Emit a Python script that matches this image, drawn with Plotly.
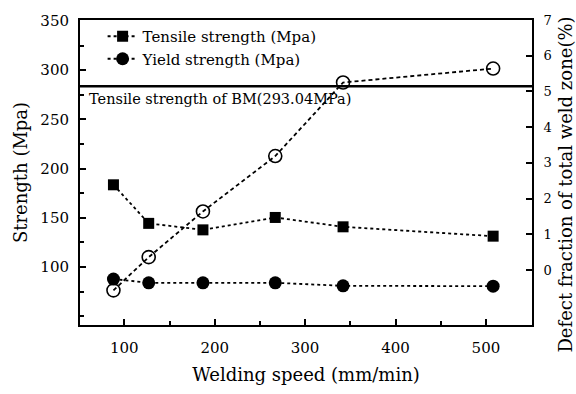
import plotly.graph_objects as go

# Data
speed = [88, 127, 187, 267, 342, 508]
tensile = [183.5, 144.3, 137.7, 150.3, 140.8, 131.3]
yield_s = [87.7, 83.9, 83.9, 83.9, 80.8, 80.5]
defect = [-0.57, 0.36, 1.64, 3.19, 5.25, 5.64]
bm_level = 283.7
bm_label = "Tensile strength of BM(293.04MPa)"
x_ticks = [100, 200, 300, 400, 500]
y_ticks = [100, 150, 200, 250, 300, 350]
y2_ticks = [0, 1, 2, 3, 4, 5, 6, 7]

FONT = "DejaVu Serif"

fig = go.Figure()
fig.add_trace(go.Scatter(
    x=speed, y=tensile, name="Tensile strength (Mpa)", mode="lines+markers",
    line=dict(color="black", width=1.8, dash="dot"),
    marker=dict(symbol="square", size=11, color="black"),
))
fig.add_trace(go.Scatter(
    x=speed, y=yield_s, name="Yield strength (Mpa)", mode="lines+markers",
    line=dict(color="black", width=1.8, dash="dot"),
    marker=dict(symbol="circle", size=13, color="black"),
))
fig.add_trace(go.Scatter(
    x=speed, y=defect, name="Defect fraction", mode="lines+markers", yaxis="y2",
    showlegend=False,
    line=dict(color="black", width=1.8, dash="4px,3px"),
    marker=dict(symbol="circle-open", size=13, color="black", line=dict(width=1.6)),
))

fig.add_shape(type="line", xref="paper", x0=0, x1=1, yref="y", y0=bm_level, y1=bm_level,
              line=dict(color="black", width=2.5))
fig.add_annotation(text=bm_label, xref="paper", x=0.016, yref="paper", y=0.74,
                   xanchor="left", yanchor="middle", showarrow=False,
                   font=dict(family=FONT, size=14.5, color="black"))
fig.add_annotation(text="Defect fraction of total weld zone(%)", xref="paper", x=1.075,
                   yref="paper", y=0.46, xanchor="center", yanchor="middle", textangle=-90,
                   showarrow=False, font=dict(family=FONT, size=18, color="black"))

axis_common = dict(showline=True, linecolor="black", linewidth=2, ticks="inside",
                   tickcolor="black", tickwidth=2, ticklen=6, showgrid=False, zeroline=False)

fig.update_layout(
    width=576, height=394,
    margin=dict(l=80, r=44, t=15, b=52),
    paper_bgcolor="white", plot_bgcolor="white",
    font=dict(family=FONT, color="black"),
    xaxis=dict(range=[51, 551], tickvals=x_ticks, mirror=True,
               tickfont=dict(family=FONT, size=15), ticklabelstandoff=8,
               minor=dict(ticks="inside", dtick=50, tick0=0, ticklen=4, tickcolor="black", tickwidth=2),
               title=dict(text="Welding speed (mm/min)", font=dict(family=FONT, size=18), standoff=12),
               **axis_common),
    yaxis=dict(range=[41, 351], tickvals=y_ticks,
               tickfont=dict(family=FONT, size=15), ticklabelstandoff=6,
               minor=dict(ticks="inside", dtick=25, tick0=0, ticklen=4, tickcolor="black", tickwidth=2),
               title=dict(text="Strength (Mpa)", font=dict(family=FONT, size=18), standoff=8),
               **axis_common),
    yaxis2=dict(range=[-1.54, 7], tickvals=y2_ticks, overlaying="y", side="right",
                tickfont=dict(family=FONT, size=13), ticklabelstandoff=7,
                **axis_common),
    legend=dict(x=0.05, y=1.0, xanchor="left", yanchor="top", bgcolor="rgba(0,0,0,0)",
                font=dict(family=FONT, size=15), borderwidth=0),
    showlegend=True,
)

fig.write_html("out.html")
